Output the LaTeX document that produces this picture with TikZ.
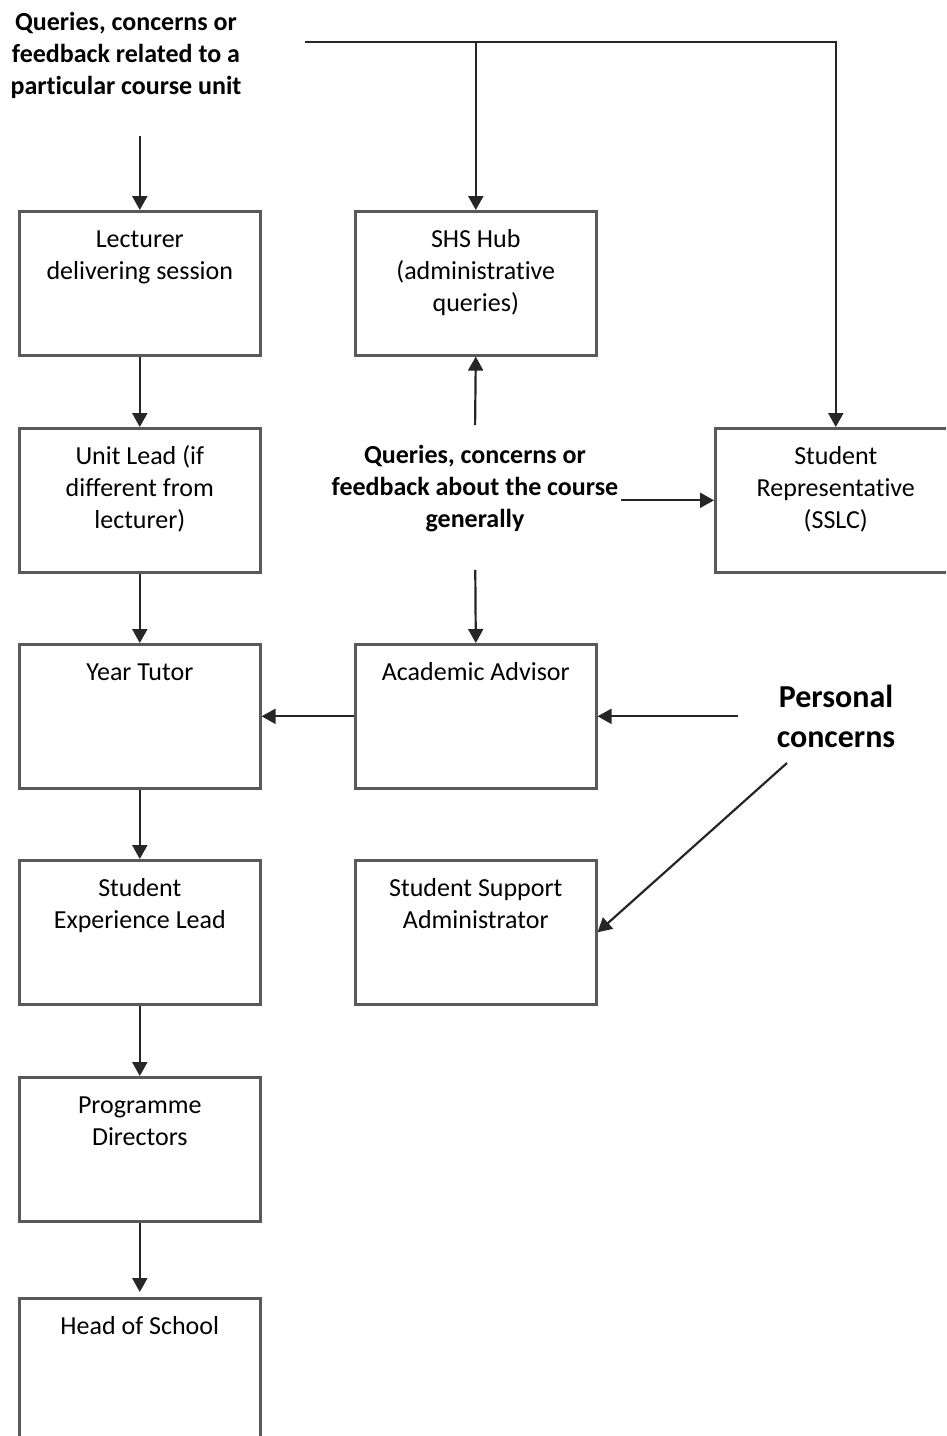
\documentclass[tikz,border=0pt]{standalone}
\usepackage{fontspec}
\setmainfont{Carlito}[RawFeature=-liga]
\usetikzlibrary{arrows.meta}
\newcommand{\bt}[2][36pt]{\parbox[t][144pt][t]{241pt}{\centering\rule{0pt}{#1}#2}}
\newcommand{\lt}[3]{\parbox[t]{#1}{\centering\rule{0pt}{#2}#3}}
\tikzset{
  box/.style={draw=black!65, line width=2.6pt, inner sep=0pt, anchor=north west,
    font=\fontsize{26}{32}\selectfont},
  lbl/.style={inner sep=0pt, anchor=north, font=\bfseries\fontsize{26}{32}\selectfont},
  arr/.style={draw=black!85, line width=2.2pt, -{Triangle[length=14pt,width=15pt]}},
}
\begin{document}
\begin{tikzpicture}[x=1pt,y=-1pt]
\useasboundingbox (0,0) rectangle (946,1436);
\clip (0,0) rectangle (946,1436);
% boxes
\node[box] (lect) at (18,210)  {\bt{Lecturer\\delivering session}};
\node[box] (hub)  at (354,210) {\bt{SHS Hub\\(administrative\\queries)}};
\node[box] (ul)   at (18,427)  {\bt{Unit Lead (if\\different from\\lecturer)}};
\node[box] (srep) at (714,427) {\bt{Student\\Representative\\(SSLC)}};
\node[box] (yt)   at (18,643)  {\bt{Year Tutor}};
\node[box] (adv)  at (354,643) {\bt{Academic Advisor}};
\node[box] (sel)  at (18,859)  {\bt{Student\\Experience Lead}};
\node[box] (ssa)  at (354,859) {\bt{Student Support\\Administrator}};
\node[box] (pd)   at (18,1076) {\bt{Programme\\Directors}};
\node[box] (hos)  at (18,1297) {\bt{Head of School}};
% free labels
\node[lbl] (qunit) at (126,0) {\lt{250pt}{30pt}{Queries, concerns or\\feedback related to a\\particular course unit}};
\node[lbl] (qgen) at (475,433) {\lt{292pt}{30pt}{Queries, concerns or\\feedback about the course\\generally}};
\node[lbl, font=\bfseries\fontsize{32}{40}\selectfont] (pc) at (836,680) {\lt{120pt}{27pt}{Personal\\concerns}};
% connectors
\coordinate (busstart) at (305,42);
\draw[arr] (busstart) -| (srep.north);
\draw[arr] (hub.north |- busstart) -- (hub.north);
\draw[arr, shorten <=38pt] (qunit.south -| lect.north) -- (lect.north);
\draw[arr] (lect.south) -- (ul.north);
\draw[arr] (ul.south) -- (yt.north);
\draw[arr] (yt.south) -- (sel.north);
\draw[arr] (sel.south) -- (pd.north);
\draw[arr, shorten >=5pt] (pd.south) -- (hos.north);
\draw[arr, shorten <=8pt] (qgen.north) -- (hub.south);
\draw[arr, shorten <=38pt] (qgen.south) -- (adv.north);
\draw[arr] (qgen.east |- srep.west) -- (srep.west);
\draw[arr] (adv.west) -- (yt.east);
\draw[arr, shorten <=38pt] (pc.west |- adv.east) -- (adv.east);
\coordinate (pcd) at (787,763);
\draw[arr] (pcd) -- (ssa.east);
\end{tikzpicture}
\end{document}
